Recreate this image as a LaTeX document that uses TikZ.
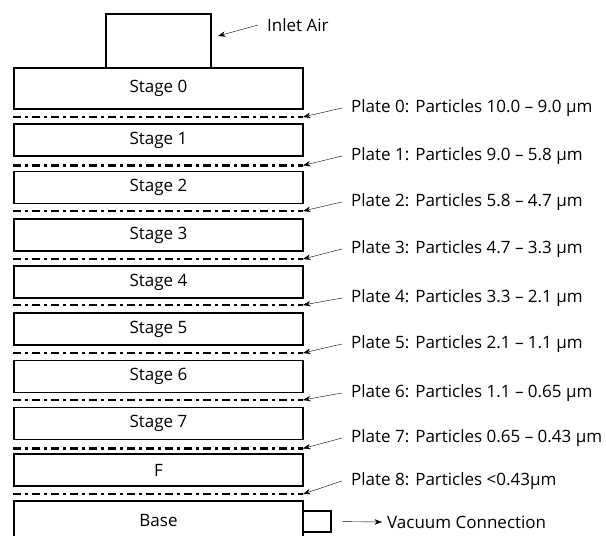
\documentclass[tikz,border=0pt]{standalone}
\usepackage{fontspec}
\setmainfont{Open Sans}
\usetikzlibrary{arrows.meta,positioning,calc}

\begin{document}
\begin{tikzpicture}[
    x=1pt, y=-1pt,
    stage/.style={rectangle, draw, line width=1.2pt, minimum width=289pt, minimum height=32pt, inner sep=0pt, font=\fontsize{17}{20}\selectfont},
    plate/.style={line width=2.8pt, dash pattern=on 8pt off 4pt on 2.5pt off 4.5pt},
    note/.style={anchor=west, inner xsep=9pt, inner ysep=2pt, font=\fontsize{17}{20}\selectfont},
    >={Stealth[length=7.5pt,width=5.5pt]}
]
    \path[use as bounding box, clip] (0,0) rectangle (606,536);

    % Inlet
    \node[stage, minimum width=105pt, minimum height=54pt] (inlet) at (158.5,41) {};
    \node[note] (air) at (258,25) {Inlet Air};
    \coordinate (inletin) at (218,36);

    % Stages
    \node[stage, minimum height=41pt] (s0) at (158.5,88.5) {Stage 0};
    \node[stage] (s1) at (158.5,140) {Stage 1};
    \node[stage] (s2) at (158.5,187.5) {Stage 2};
    \node[stage] (s3) at (158.5,235) {Stage 3};
    \node[stage] (s4) at (158.5,282) {Stage 4};
    \node[stage] (s5) at (158.5,329) {Stage 5};
    \node[stage] (s6) at (158.5,376.5) {Stage 6};
    \node[stage] (s7) at (158.5,423.5) {Stage 7};
    \node[stage] (sf) at (158.5,470) {F};
    \node[stage, minimum height=40pt] (base) at (158.5,521) {Base};

    % Plates
    \coordinate (p0) at (303,117);
    \coordinate (p1) at (303,165.5);
    \coordinate (p2) at (303,211);
    \coordinate (p3) at (303,259);
    \coordinate (p4) at (303,305);
    \coordinate (p5) at (303,353);
    \coordinate (p6) at (303,400);
    \coordinate (p7) at (303,448.5);
    \coordinate (p8) at (303,494);
    \draw[plate] (p0 -| s0.west) -- (p0);
    \draw[plate] (p1 -| s1.west) -- (p1);
    \draw[plate] (p2 -| s2.west) -- (p2);
    \draw[plate] (p3 -| s3.west) -- (p3);
    \draw[plate] (p4 -| s4.west) -- (p4);
    \draw[plate] (p5 -| s5.west) -- (p5);
    \draw[plate] (p6 -| s6.west) -- (p6);
    \draw[plate] (p7 -| s7.west) -- (p7);
    \draw[plate] (p8 -| sf.west) -- (p8);

    % Plate labels
    \node[note] (l0) at (342,108) {Plate 0: Particles 10.0 – 9.0 µm};
    \node[note] (l1) at (342,156) {Plate 1: Particles 9.0 – 5.8 µm};
    \node[note] (l2) at (342,202) {Plate 2: Particles 5.8 – 4.7 µm};
    \node[note] (l3) at (342,249) {Plate 3: Particles 4.7 – 3.3 µm};
    \node[note] (l4) at (342,298) {Plate 4: Particles 3.3 – 2.1 µm};
    \node[note] (l5) at (342,344) {Plate 5: Particles 2.1 – 1.1 µm};
    \node[note] (l6) at (342,393) {Plate 6: Particles 1.1 – 0.65 µm};
    \node[note] (l7) at (342,438) {Plate 7: Particles 0.65 – 0.43 µm};
    \node[note] (l8) at (342,481) {Plate 8: Particles <0.43µm};

    % Vacuum
    \node[rectangle, draw, line width=1.2pt, minimum width=28pt, minimum height=21pt, inner sep=0pt] (vac) at (317,521.5) {};
    \node[note, inner xsep=5pt] (vactxt) at (382,522) {Vacuum Connection};

    % Arrows
    \draw[->] (air.west) -- (inletin);
    \draw[->] (l0.west) -- (p0);
    \draw[->] (l1.west) -- (p1);
    \draw[->] (l2.west) -- (p2);
    \draw[->] (l3.west) -- (p3);
    \draw[->] (l4.west) -- (p4);
    \draw[->] (l5.west) -- (p5);
    \draw[->] (l6.west) -- (p6);
    \draw[->] (l7.west) -- (p7);
    \draw[->] (l8.west) -- (p8);
    \draw[->, shorten <=11pt] (vac.east) -- (vactxt.west);
\end{tikzpicture}
\end{document}
